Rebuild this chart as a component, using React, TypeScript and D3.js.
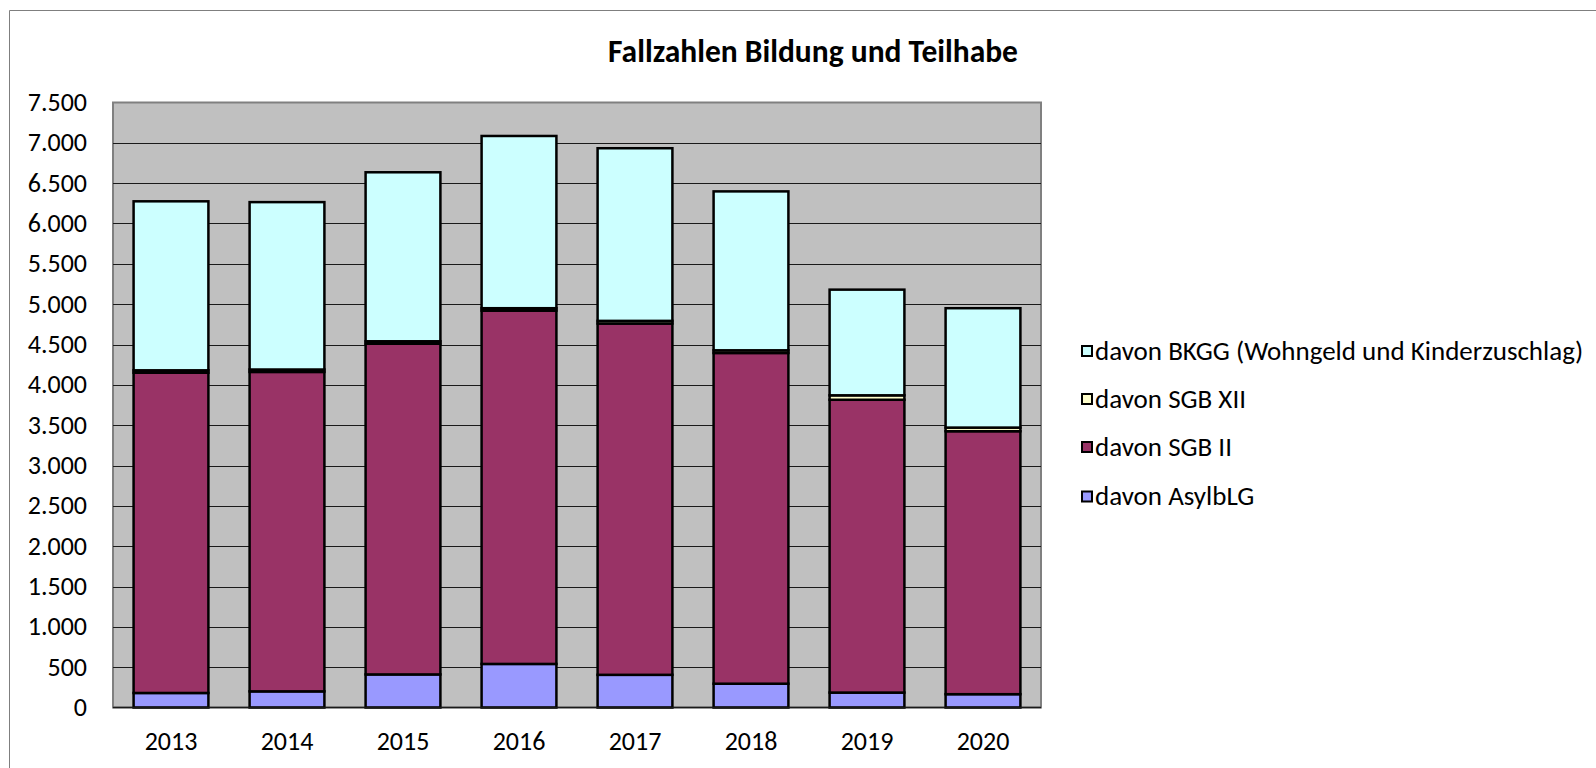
import React from "react";
import * as d3 from "d3";

const years = ["2013", "2014", "2015", "2016", "2017", "2018", "2019", "2020"];
const asylblg = [180, 200, 410, 540, 405, 295, 185, 165];
const sgb2 = [3970, 3960, 4100, 4380, 4355, 4100, 3630, 3260];
const sgb12 = [30, 30, 30, 30, 33, 33, 55, 45];
const bkgg = [2095, 2075, 2095, 2135, 2140, 1970, 1310, 1480];
const yTicks = [0, 500, 1000, 1500, 2000, 2500, 3000, 3500, 4000, 4500, 5000, 5500, 6000, 6500, 7000, 7500];

const seriesNames = ["davon AsylbLG", "davon SGB II", "davon SGB XII", "davon BKGG (Wohngeld und Kinderzuschlag)"];
const seriesColors = ["#9999FF", "#993366", "#FFFFCC", "#CCFFFF"];
const seriesValues = [asylblg, sgb2, sgb12, bkgg];

const W = 1596;
const H = 768;
const plot = { left: 113, right: 1041, top: 102.5, bottom: 707.5 };
const FONT = "Carlito, Calibri, 'Open Sans', sans-serif";

const locale = d3.formatLocale({ decimal: ",", thousands: ".", grouping: [3], currency: ["", " €"] });
const fmt = locale.format(",");

export default function App() {
  const x = d3.scaleBand<string>().domain(years).range([plot.left, plot.right]).paddingInner(0.355).paddingOuter(0.1775);
  const y = d3.scaleLinear().domain([0, 7500]).range([plot.bottom, plot.top]);

  const rows = years.map((yr, i) => {
    const r: any = { year: yr };
    seriesNames.forEach((n, k) => (r[n] = seriesValues[k][i]));
    return r;
  });
  const stacked = d3.stack<any>().keys(seriesNames)(rows);

  const legendOrder = [3, 2, 1, 0];
  const legendY = [351, 399, 447, 496.5];

  return (
    <svg width={W} height={H} style={{ position: "absolute", left: 0, top: 0, background: "#fff" }}>
      {/* chart frame */}
      <path d={`M9.5,${H + 5} V10.5 H${W + 5}`} fill="none" stroke="#7f7f7f" strokeWidth={1} />

      <text x={813} y={62} textAnchor="middle" fontFamily={FONT} fontWeight="bold" fontSize={31.5} fill="#000">
        Fallzahlen Bildung und Teilhabe
      </text>

      {/* plot area */}
      <rect x={plot.left} y={plot.top} width={plot.right - plot.left} height={plot.bottom - plot.top} fill="#C0C0C0" stroke="#808080" strokeWidth={2} />

      {yTicks.filter((t) => t > 0 && t < 7500).map((t) => (
        <line key={t} x1={plot.left} x2={plot.right} y1={Math.round(y(t)) + 0.5} y2={Math.round(y(t)) + 0.5} stroke="#1a1a1a" strokeWidth={1} />
      ))}

      {yTicks.map((t) => (
        <text key={t} x={87} y={y(t)} dy="0.33em" textAnchor="end" fontFamily={FONT} fontSize={26} fill="#000">
          {fmt(t)}
        </text>
      ))}

      {stacked.map((s, k) => (
        <g key={s.key}>
          {s.map((d, i) => (
            <rect
              key={i}
              x={x(years[i])}
              y={y(d[1])}
              width={x.bandwidth()}
              height={Math.max(0, y(d[0]) - y(d[1]))}
              fill={seriesColors[k]}
              stroke="#000"
              strokeWidth={2.5}
            />
          ))}
        </g>
      ))}

      <line x1={plot.left} x2={plot.right} y1={plot.bottom} y2={plot.bottom} stroke="#1a1a1a" strokeWidth={1.5} />

      {years.map((yr) => (
        <text key={yr} x={(x(yr) as number) + x.bandwidth() / 2} y={750} textAnchor="middle" fontFamily={FONT} fontSize={26} fill="#000">
          {yr}
        </text>
      ))}

      {legendOrder.map((k, j) => (
        <g key={k}>
          <rect x={1082} y={legendY[j] - 5} width={10} height={10} fill={seriesColors[k]} stroke="#000" strokeWidth={2} />
          <text x={1095} y={legendY[j]} dy="0.33em" fontFamily={FONT} fontSize={27} fill="#000">
            {seriesNames[k]}
          </text>
        </g>
      ))}
    </svg>
  );
}
